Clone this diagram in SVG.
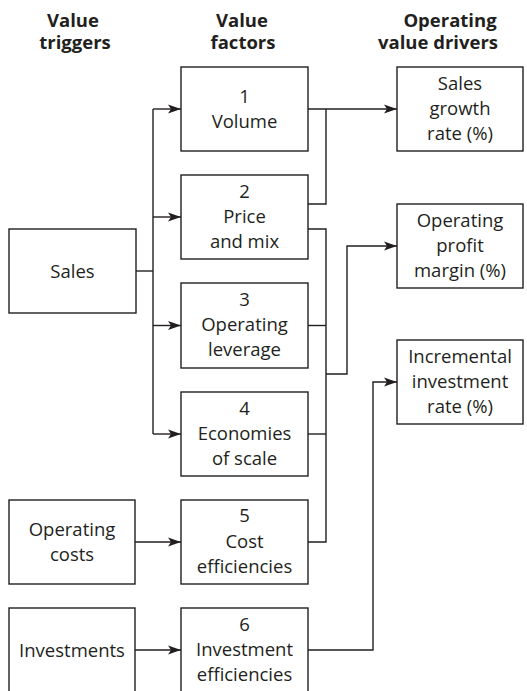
<svg xmlns="http://www.w3.org/2000/svg" width="527" height="691" viewBox="0 0 527 691">
<style>
.box{fill:#fff;stroke:#231f20;stroke-width:1.4}
.t{font-family:"Open Sans","Liberation Sans",sans-serif;font-size:18.5px;fill:#231f20;text-anchor:middle}
.h{font-family:"Open Sans","Liberation Sans",sans-serif;font-size:18.5px;font-weight:bold;fill:#231f20;text-anchor:middle}
.c{fill:none;stroke:#231f20;stroke-width:1.4}
</style>
<defs>
<marker id="ah" markerWidth="14" markerHeight="10" refX="13" refY="5" orient="auto" markerUnits="userSpaceOnUse">
<path d="M0,0.5 L13,5 L0,9.5 L3,5 Z" fill="#231f20"/>
</marker>
</defs>
<rect width="527" height="691" fill="#fff"/>
<g id="headers">
<text class="h" x="73" y="27">Value</text>
<text class="h" x="75" y="49">triggers</text>
<text class="h" x="242" y="27">Value</text>
<text class="h" x="243" y="49">factors</text>
<text class="h" x="450" y="27">Operating</text>
<text class="h" x="438" y="49">value drivers</text>
</g>
<g id="connectors">
<path class="c" d="M136,271 H153"/>
<path class="c" d="M153,109 V434"/>
<path class="c" d="M153,109 H181" marker-end="url(#ah)"/>
<path class="c" d="M153,217 H181" marker-end="url(#ah)"/>
<path class="c" d="M153,325.5 H181" marker-end="url(#ah)"/>
<path class="c" d="M153,434 H181" marker-end="url(#ah)"/>
<path class="c" d="M135,542 H181" marker-end="url(#ah)"/>
<path class="c" d="M135,650 H181" marker-end="url(#ah)"/>
<path class="c" d="M308,109 H397" marker-end="url(#ah)"/>
<path class="c" d="M308,204 H326 V109"/>
<path class="c" d="M308,229 H326 V542 H308"/>
<path class="c" d="M308,325.5 H326"/>
<path class="c" d="M308,434 H326"/>
<path class="c" d="M326,374 H347 V246 H397" marker-end="url(#ah)"/>
<path class="c" d="M308,650 H373 V382 H397" marker-end="url(#ah)"/>
</g>
<g id="sales"><rect class="box" x="9" y="229" width="127" height="84"/><text class="t" x="72.5" y="278">Sales</text></g>
<g id="operating-costs"><rect class="box" x="9" y="500" width="126" height="84"/><text class="t" x="72" y="536">Operating</text><text class="t" x="72" y="561">costs</text></g>
<g id="investments"><rect class="box" x="9" y="608" width="126" height="90"/><text class="t" x="72" y="657">Investments</text></g>
<g id="f1"><rect class="box" x="181" y="67" width="127" height="84"/><text class="t" x="244.5" y="103">1</text><text class="t" x="244.5" y="128">Volume</text></g>
<g id="f2"><rect class="box" x="181" y="175" width="127" height="84"/><text class="t" x="244.5" y="198">2</text><text class="t" x="244.5" y="223">Price</text><text class="t" x="244.5" y="248">and mix</text></g>
<g id="f3"><rect class="box" x="181" y="283" width="127" height="85"/><text class="t" x="244.5" y="306">3</text><text class="t" x="244.5" y="331">Operating</text><text class="t" x="244.5" y="356">leverage</text></g>
<g id="f4"><rect class="box" x="181" y="392" width="127" height="84"/><text class="t" x="244.5" y="415">4</text><text class="t" x="244.5" y="440">Economies</text><text class="t" x="244.5" y="465">of scale</text></g>
<g id="f5"><rect class="box" x="181" y="500" width="127" height="84"/><text class="t" x="244.5" y="522">5</text><text class="t" x="244.5" y="548">Cost</text><text class="t" x="244.5" y="573">efficiencies</text></g>
<g id="f6"><rect class="box" x="181" y="608" width="127" height="90"/><text class="t" x="244.5" y="631">6</text><text class="t" x="244.5" y="656">Investment</text><text class="t" x="244.5" y="681">efficiencies</text></g>
<g id="d1"><rect class="box" x="397" y="67" width="126" height="84"/><text class="t" x="460" y="90">Sales</text><text class="t" x="460" y="115">growth</text><text class="t" x="460" y="140">rate (%)</text></g>
<g id="d2"><rect class="box" x="397" y="204" width="126" height="84"/><text class="t" x="460" y="227">Operating</text><text class="t" x="460" y="252">profit</text><text class="t" x="460" y="277">margin (%)</text></g>
<g id="d3"><rect class="box" x="397" y="340" width="126" height="84"/><text class="t" x="460" y="363">Incremental</text><text class="t" x="460" y="388">investment</text><text class="t" x="460" y="413">rate (%)</text></g>
</svg>
